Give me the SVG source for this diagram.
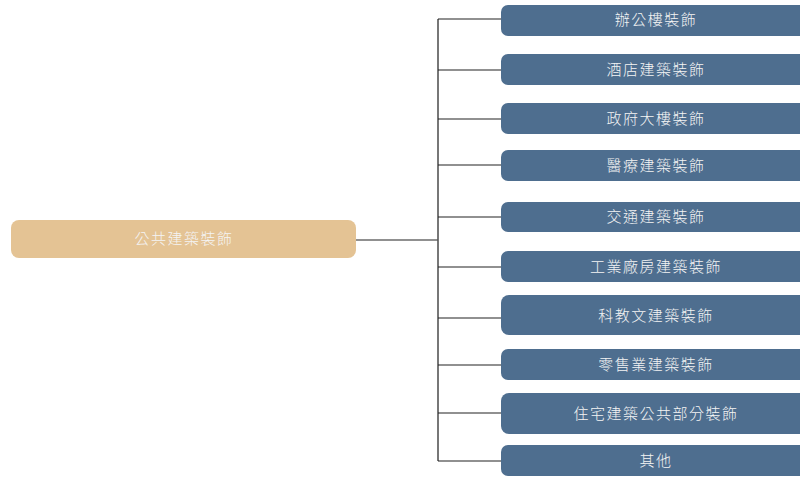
<svg xmlns="http://www.w3.org/2000/svg" width="800" height="477" viewBox="0 0 800 477">
<style>
.root{fill:#E4C394}
.child{fill:#4E6E8F}
.t{fill:#F4F4F4;font-family:"Noto Sans CJK TC","Noto Sans CJK SC",sans-serif;font-size:15px;font-weight:300;letter-spacing:1.5px;text-anchor:middle;dominant-baseline:central}
.ln{stroke:#222;stroke-width:1.2;fill:none}
.trunk{stroke:#555;stroke-width:1.6;fill:none}
</style>
<rect width="800" height="477" fill="#fff"/>
<g id="connectors">
<line class="ln" x1="356" y1="240" x2="438" y2="240"/>
<line class="trunk" x1="438" y1="19" x2="438" y2="461"/>
<line class="ln" x1="438" y1="19" x2="502" y2="19"/>
<line class="ln" x1="438" y1="70" x2="502" y2="70"/>
<line class="ln" x1="438" y1="119" x2="502" y2="119"/>
<line class="ln" x1="438" y1="165" x2="502" y2="165"/>
<line class="ln" x1="438" y1="217" x2="502" y2="217"/>
<line class="ln" x1="438" y1="267" x2="502" y2="267"/>
<line class="ln" x1="438" y1="318" x2="502" y2="318"/>
<line class="ln" x1="438" y1="365" x2="502" y2="365"/>
<line class="ln" x1="438" y1="413" x2="502" y2="413"/>
<line class="ln" x1="438" y1="461" x2="502" y2="461"/>
</g>
<g id="root"><rect class="root" x="11" y="220" width="345" height="38" rx="8"/><text class="t" x="184" y="237">公共建築裝飾</text></g>
<g id="n1"><rect class="child" x="501" y="5" width="310" height="31" rx="7"/><text class="t" x="656" y="18">辦公樓裝飾</text></g>
<g id="n2"><rect class="child" x="501" y="54" width="310" height="31" rx="7"/><text class="t" x="656" y="68">酒店建築裝飾</text></g>
<g id="n3"><rect class="child" x="501" y="103" width="310" height="31" rx="7"/><text class="t" x="656" y="117">政府大樓裝飾</text></g>
<g id="n4"><rect class="child" x="501" y="150" width="310" height="31" rx="7"/><text class="t" x="656" y="164">醫療建築裝飾</text></g>
<g id="n5"><rect class="child" x="501" y="202" width="310" height="30" rx="7"/><text class="t" x="656" y="215">交通建築裝飾</text></g>
<g id="n6"><rect class="child" x="501" y="251" width="310" height="31" rx="7"/><text class="t" x="656" y="265">工業廠房建築裝飾</text></g>
<g id="n7"><rect class="child" x="501" y="295" width="310" height="40" rx="8"/><text class="t" x="656" y="314">科教文建築裝飾</text></g>
<g id="n8"><rect class="child" x="501" y="349" width="310" height="31" rx="7"/><text class="t" x="656" y="363">零售業建築裝飾</text></g>
<g id="n9"><rect class="child" x="501" y="393" width="310" height="41" rx="8"/><text class="t" x="656" y="412">住宅建築公共部分裝飾</text></g>
<g id="n10"><rect class="child" x="501" y="445" width="310" height="31" rx="7"/><text class="t" x="656" y="459">其他</text></g>
</svg>
